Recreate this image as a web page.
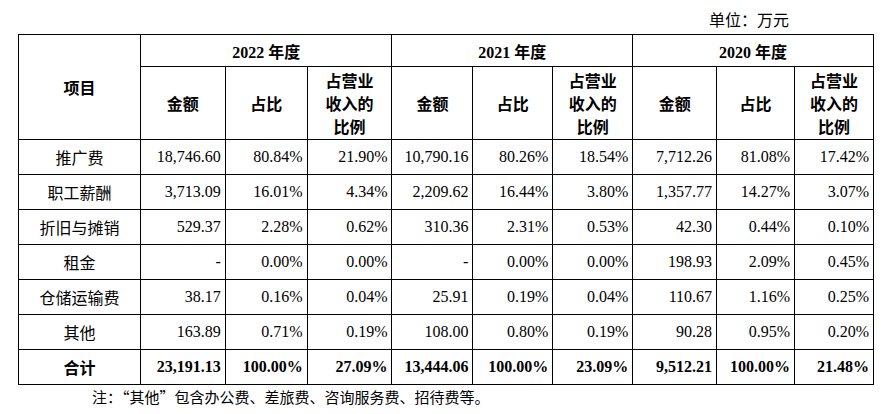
<!DOCTYPE html>
<html><head><meta charset="utf-8">
<script src="https://cdn.jsdelivr.net/npm/chart.js"></script>
<style>
body{margin:0;background:#fff;font-family:"Liberation Serif","Noto Sans CJK SC",serif;color:#000;}
#unit{position:absolute;left:709px;top:7px;font-size:16px;font-family:"Noto Sans CJK SC";}
table{position:absolute;left:18px;top:34px;border-collapse:collapse;width:856px;font-size:16px;}
td{border:1px solid #000;padding:0 4px;height:34px;text-align:right;white-space:nowrap;}
td.c{text-align:center}
.b{font-weight:bold}
.zh{font-family:"Noto Sans CJK SC";}
#note{position:absolute;left:92px;top:386px;font-size:15px;font-family:"Noto Sans CJK SC";}
</style></head><body>
<div id="unit">单位：万元</div>
<table id="t"></table>
<div id="note">注：“其他”包含办公费、差旅费、咨询服务费、招待费等。</div>
<script>
const years=["2022 年度","2021 年度","2020 年度"];
const subHeaders=["金额","占比","占营业<br>收入的<br>比例"];
const items=["推广费","职工薪酬","折旧与摊销","租金","仓储运输费","其他","合计"];
const y2022=[["18,746.60","80.84%","21.90%"],["3,713.09","16.01%","4.34%"],["529.37","2.28%","0.62%"],["-","0.00%","0.00%"],["38.17","0.16%","0.04%"],["163.89","0.71%","0.19%"],["23,191.13","100.00%","27.09%"]];
const y2021=[["10,790.16","80.26%","18.54%"],["2,209.62","16.44%","3.80%"],["310.36","2.31%","0.53%"],["-","0.00%","0.00%"],["25.91","0.19%","0.04%"],["108.00","0.80%","0.19%"],["13,444.06","100.00%","23.09%"]];
const y2020=[["7,712.26","81.08%","17.42%"],["1,357.77","14.27%","3.07%"],["42.30","0.44%","0.10%"],["198.93","2.09%","0.45%"],["110.67","1.16%","0.25%"],["90.28","0.95%","0.20%"],["9,512.21","100.00%","21.48%"]];
const widths=[122,85,82,85,81,80,80,84,78,79];
let h='<colgroup>'+widths.map(w=>`<col style="width:${w}px">`).join('')+'</colgroup>';
h+='<tr><td rowspan="2" class="c b zh">项目</td>'+years.map(y=>`<td colspan="3" class="c b" style="height:31px">${y.replace('年度','<span class="zh">年度</span>')}</td>`).join('')+'</tr>';
h+='<tr>'+years.map(()=>subHeaders.map(s=>`<td class="c b zh" style="height:72px;line-height:23px">${s}</td>`).join('')).join('')+'</tr>';
items.forEach((it,i)=>{
  const last=i===items.length-1;
  const cls=last?' b':'';
  h+=`<tr><td class="c zh${cls}" style="${last?'height:24px':''}">${it}</td>`+[y2022,y2021,y2020].map(a=>a[i].map(v=>`<td class="${cls}">${v}</td>`).join('')).join('')+'</tr>';
});
document.getElementById('t').innerHTML=h;
</script>
</body></html>
